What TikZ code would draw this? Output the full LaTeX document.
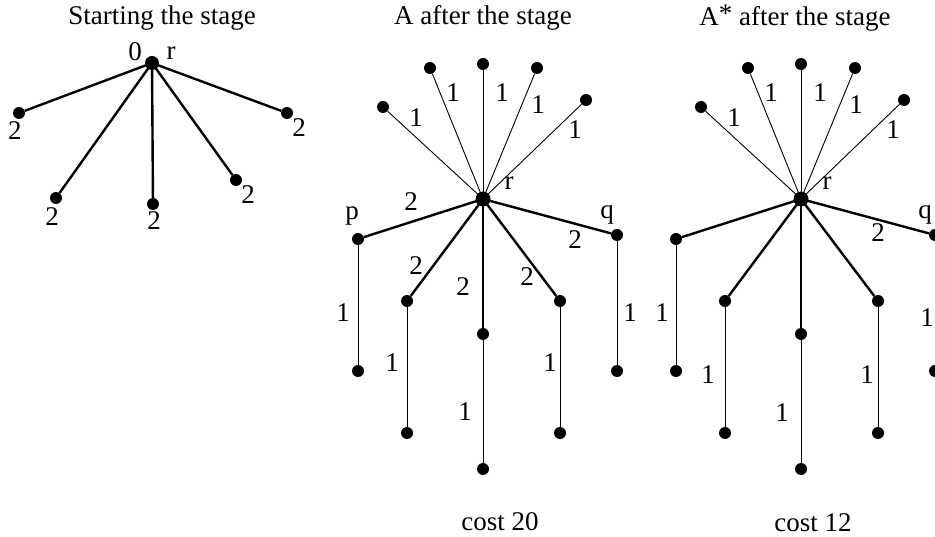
\documentclass[tikz,border=0pt]{standalone}
\usepackage{fontspec}
\setmainfont{Liberation Serif}
\begin{document}
\begin{tikzpicture}[x=1pt,y=-1pt,
  dot/.style={circle,fill=black,inner sep=0pt,minimum size=12pt},
  rootdot/.style={circle,fill=black,inner sep=0pt,minimum size=15pt},
  heavy/.style={line width=2.4pt},
  light/.style={line width=0.9pt},
  lbl/.style={inner sep=0pt,font=\fontsize{27}{31}\selectfont}]
\useasboundingbox (0,0) rectangle (935,537);
\newcommand\mystartree[1]{%
  \node[rootdot] (#1r) at (0,0) {};
  \node[dot] (#1u1) at (-100,-92) {};
  \node[dot] (#1u2) at (-53,-131) {};
  \node[dot] (#1u3) at (0,-135) {};
  \node[dot] (#1u4) at (54,-131) {};
  \node[dot] (#1u5) at (103,-99) {};
  \node[dot] (#1p) at (-125,40) {};
  \node[dot] (#1q) at (134,36) {};
  \node[dot] (#1m1) at (-76,102) {};
  \node[dot] (#1m2) at (0,135) {};
  \node[dot] (#1m3) at (77,102) {};
  \node[dot] (#1pl) at (-125,172) {};
  \node[dot] (#1m1l) at (-76,234) {};
  \node[dot] (#1m2l) at (0,270) {};
  \node[dot] (#1m3l) at (77,234) {};
  \node[dot] (#1ql) at (134,172) {};
  \foreach \k in {u1,u2,u3,u4,u5} {\draw[light] (#1r.center) -- (#1\k);}
  \foreach \k in {p,q,m1,m2,m3} {\draw[heavy] (#1r.center) -- (#1\k);}
  \draw[light] (#1p) -- (#1pl);
  \draw[light] (#1q) -- (#1ql);
  \draw[light] (#1m1) -- (#1m1l);
  \draw[light] (#1m2) -- (#1m2l);
  \draw[light] (#1m3) -- (#1m3l);
}
% ---------- left tree ----------
\node[lbl] (t1) at (162,18) {Starting the stage};
\node[rootdot,minimum size=14pt] (lr) at (152,63) {};
\node[dot] (l1) at (19,113) {};
\node[dot] (l2) at (56,198) {};
\node[dot] (l3) at (153,204) {};
\node[dot] (l4) at (236,180) {};
\node[dot] (l5) at (287,113) {};
\foreach \k in {l1,l2,l3,l4,l5} {\draw[heavy] (lr.center) -- (\k);}
\node[lbl] (lz) at (135,52) {0};
\node[lbl] (lrl) at (171,53) {r};
\node[lbl] (la1) at (15,131) {2};
\node[lbl] (la2) at (52,217) {2};
\node[lbl] (la3) at (154,221) {2};
\node[lbl] (la4) at (248,195) {2};
\node[lbl] (la5) at (299,128) {2};
% ---------- middle tree ----------
\node[lbl] (t2) at (483,18) {A after the stage};
\begin{scope}[shift={(483,199)}]
\mystartree{a}
\end{scope}
\foreach \x/\y [count=\i] in {416/118,453/93,502/93,538/105,575/130}
  {\node[lbl] (aw\i) at (\x,\y) {1};}
\node[lbl] (arl) at (509,183) {r};
\node[lbl] (apl) at (352,216) {p};
\node[lbl] (aql) at (607,215) {q};
\foreach \x/\y [count=\i] in {411/202,575/240,416/266,463/287,527/277}
  {\node[lbl] (ah\i) at (\x,\y) {2};}
\foreach \x/\y [count=\i] in {343/313,392/363,465/412,550/363,630/313}
  {\node[lbl] (al\i) at (\x,\y) {1};}
\node[lbl] (ac) at (500,522) {cost 20};
% ---------- right tree ----------
\node[lbl] (t3) at (795,18) {A\raisebox{0.2ex}{*} after the stage};
\begin{scope}[shift={(801,199)}]
\mystartree{b}
\end{scope}
\foreach \x/\y [count=\i] in {734/118,771/93,820/93,856/105,893/130}
  {\node[lbl] (bw\i) at (\x,\y) {1};}
\node[lbl] (brl) at (827,183) {r};
\node[lbl] (bql) at (925,215) {q};
\node[lbl] (bh) at (878,233) {2};
\foreach \x/\y [count=\i] in {662/313,708/375,782/413,867/375,927/318}
  {\node[lbl] (bl\i) at (\x,\y) {1};}
\node[lbl] (bc) at (813,523) {cost 12};
\end{tikzpicture}
\end{document}
